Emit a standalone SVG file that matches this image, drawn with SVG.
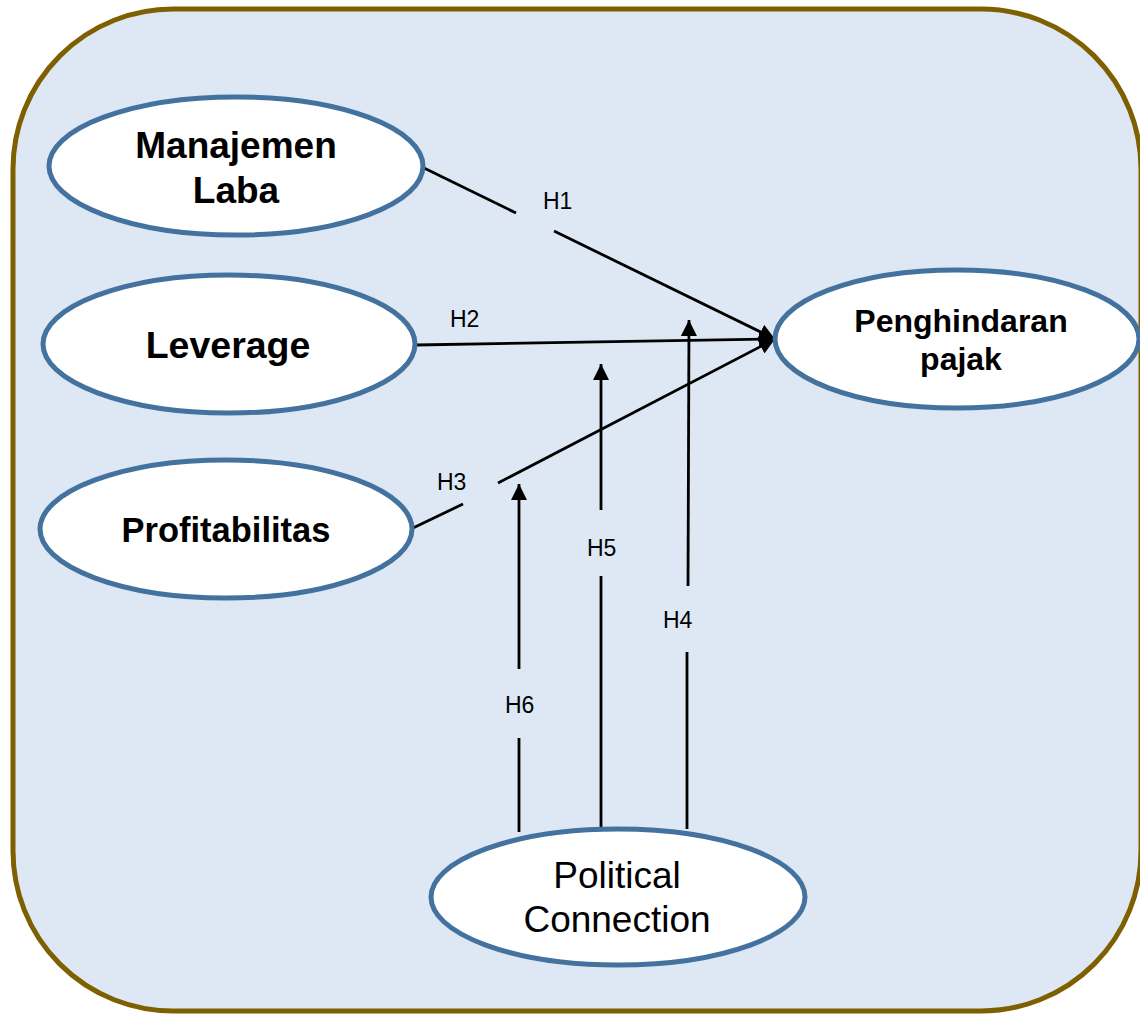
<svg xmlns="http://www.w3.org/2000/svg" width="1140" height="1014" viewBox="0 0 1140 1014">
<style>
.frame{fill:#dde8f4;stroke:#7f6000;stroke-width:5}
.node{fill:#ffffff;stroke:#44729e;stroke-width:5}
.lbl{font-family:"Liberation Sans",Arial,sans-serif;fill:#000;text-anchor:middle}
.b{font-weight:bold}
.h{font-family:"Liberation Sans",Arial,sans-serif;font-size:23px;fill:#000}
.ln{stroke:#000;stroke-width:2.8;fill:none}
</style>
<defs>
<marker id="ah" markerUnits="userSpaceOnUse" markerWidth="17" markerHeight="16" refX="16" refY="8" orient="auto">
<path d="M0,0 L16,8 L0,16 z" fill="#000"/>
</marker>
</defs>
<rect class="frame" x="13" y="9" width="1128" height="1002" rx="160" ry="160"/>
<g id="connectors">
<line class="ln" x1="424" y1="168" x2="516" y2="213"/>
<line class="ln" x1="554" y1="231" x2="775" y2="339" marker-end="url(#ah)"/>
<line class="ln" x1="416" y1="345" x2="775" y2="339" marker-end="url(#ah)"/>
<line class="ln" x1="413" y1="528" x2="463" y2="504"/>
<line class="ln" x1="498" y1="483" x2="775" y2="339" marker-end="url(#ah)"/>
<line class="ln" x1="519" y1="832" x2="519" y2="738"/>
<line class="ln" x1="519" y1="669" x2="519" y2="484" marker-end="url(#ah)"/>
<line class="ln" x1="601" y1="829" x2="601" y2="576"/>
<line class="ln" x1="601" y1="510" x2="601" y2="364" marker-end="url(#ah)"/>
<line class="ln" x1="687" y1="829" x2="687" y2="652"/>
<line class="ln" x1="688" y1="586" x2="689" y2="320" marker-end="url(#ah)"/>
<text class="h" x="543" y="209">H1</text>
<text class="h" x="450" y="327">H2</text>
<text class="h" x="437" y="490">H3</text>
<text class="h" x="587" y="556">H5</text>
<text class="h" x="663" y="628">H4</text>
<text class="h" x="505" y="713">H6</text>
</g>
<g id="manajemen-laba">
<ellipse class="node" cx="236" cy="166" rx="187" ry="69"/>
<text class="lbl b" font-size="37" x="236" y="158">Manajemen</text>
<text class="lbl b" font-size="37" x="236" y="203">Laba</text>
</g>
<g id="leverage">
<ellipse class="node" cx="229" cy="344" rx="186" ry="69"/>
<text class="lbl b" font-size="37.5" x="228" y="358">Leverage</text>
</g>
<g id="profitabilitas">
<ellipse class="node" cx="226" cy="529" rx="186" ry="69"/>
<text class="lbl b" font-size="34.5" x="226" y="542">Profitabilitas</text>
</g>
<g id="penghindaran-pajak">
<ellipse class="node" cx="957" cy="339" rx="182" ry="69"/>
<text class="lbl b" font-size="32" x="961" y="332">Penghindaran</text>
<text class="lbl b" font-size="32" x="961" y="370">pajak</text>
</g>
<g id="political-connection">
<ellipse class="node" cx="618" cy="897" rx="187" ry="68"/>
<text class="lbl" font-size="37" x="617" y="888">Political</text>
<text class="lbl" font-size="37" x="617" y="932">Connection</text>
</g>
</svg>
